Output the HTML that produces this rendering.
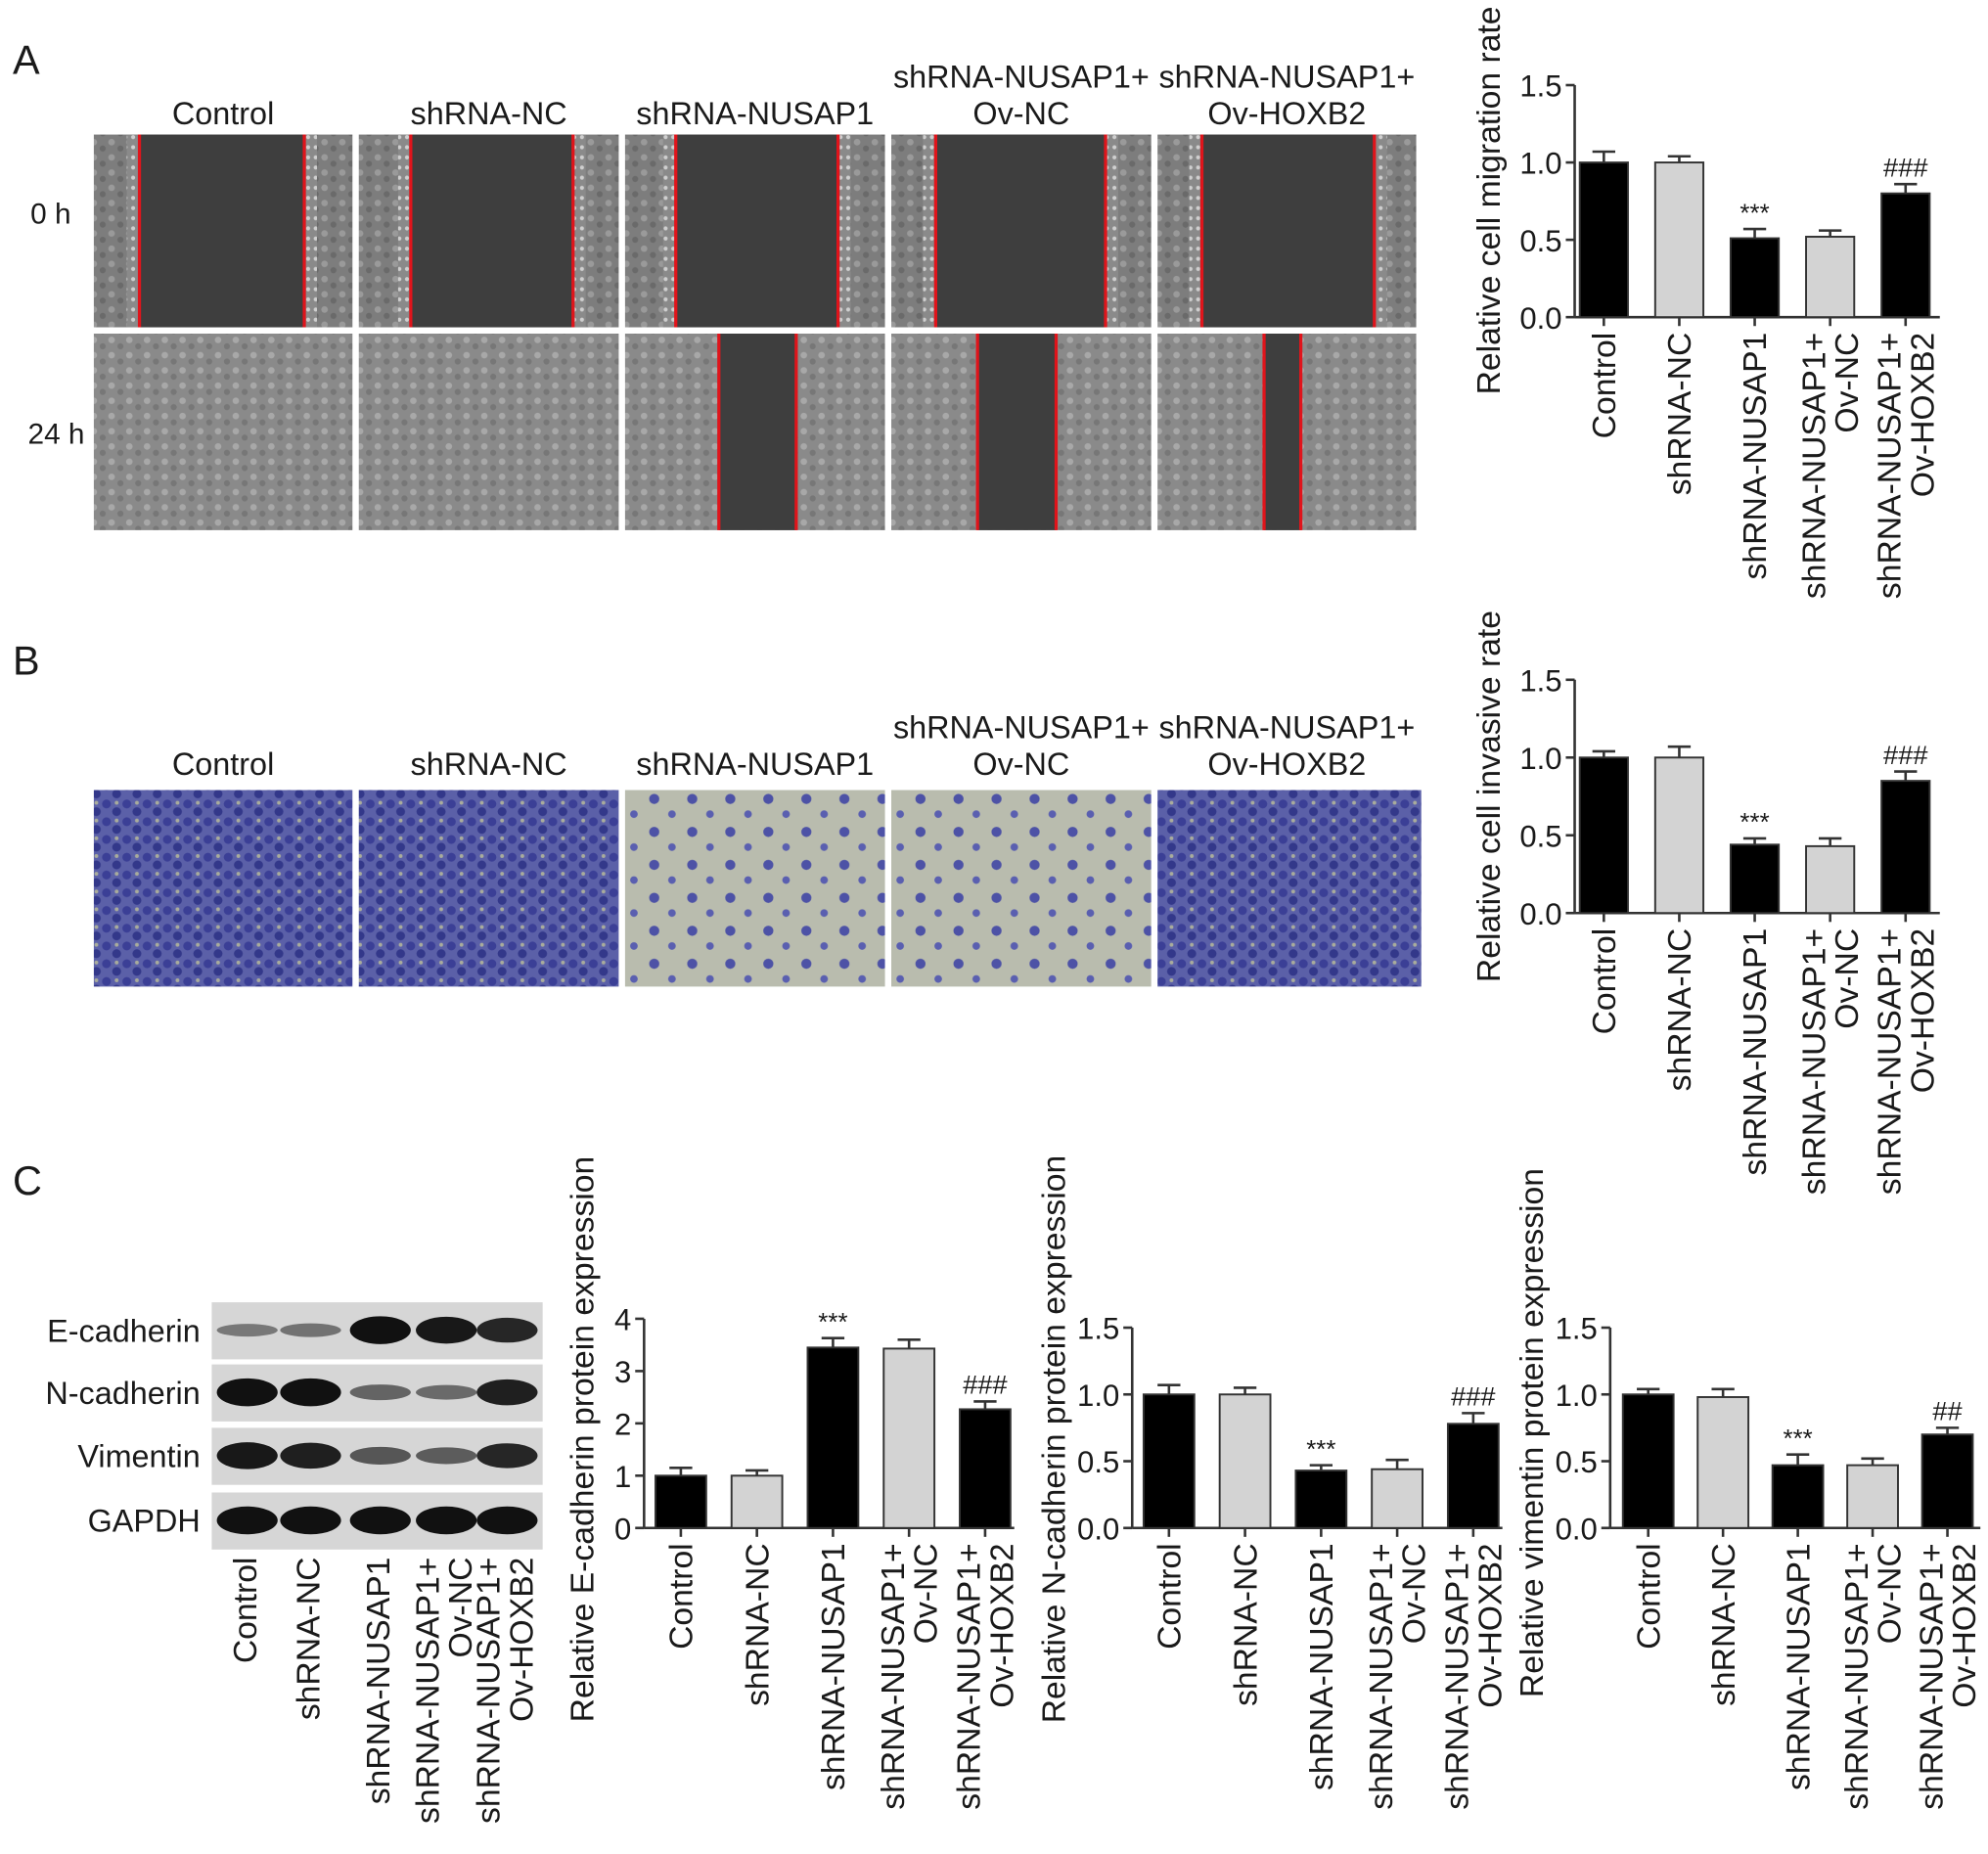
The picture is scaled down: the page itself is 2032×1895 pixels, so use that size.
<!DOCTYPE html>
<html><head><meta charset="utf-8">
<style>
html,body{margin:0;padding:0;background:#fff;}
svg{display:block;}
text{font-family:"Liberation Sans",Arial,sans-serif;fill:#1a1a1a;}
</style></head>
<body>
<svg id="fig" width="2032" height="1895" viewBox="0 0 1568 1462" xmlns="http://www.w3.org/2000/svg">
<defs>
<pattern id="cells" width="14" height="12" patternUnits="userSpaceOnUse">
<rect width="14" height="12" fill="#7d7d7d"/>
<circle cx="4" cy="4" r="2.6" fill="#9a9a9a"/><circle cx="11" cy="9" r="2.4" fill="#6a6a6a"/>
</pattern>
<pattern id="cells2" width="14" height="12" patternUnits="userSpaceOnUse">
<rect width="14" height="12" fill="#8a8a8a"/>
<circle cx="4" cy="4" r="2.6" fill="#a8a8a8"/><circle cx="11" cy="9" r="2.4" fill="#777"/>
</pattern>
<pattern id="edge" width="6" height="8" patternUnits="userSpaceOnUse">
<rect width="6" height="8" fill="#8a8a8a"/><circle cx="3" cy="4" r="1.6" fill="#cfcfcf"/>
</pattern>
<pattern id="blue" width="16" height="14" patternUnits="userSpaceOnUse">
<rect width="16" height="14" fill="#5b60a8"/>
<circle cx="4" cy="4" r="3.5" fill="#3b3f96"/><circle cx="12" cy="10" r="3.5" fill="#33388a"/><circle cx="12" cy="3" r="1.5" fill="#a9ac9c"/>
</pattern>
<pattern id="sparse" width="30" height="26" patternUnits="userSpaceOnUse">
<rect width="30" height="26" fill="#b9bcae"/>
<circle cx="6" cy="6" r="4" fill="#4d52a6"/><circle cx="20" cy="18" r="3" fill="#5a5fb0"/>
</pattern>
</defs>
<g id="root"></g>
</svg>
<script>
// ---- chart data ----
const groups = ["Control","shRNA-NC","shRNA-NUSAP1","shRNA-NUSAP1+|Ov-NC","shRNA-NUSAP1+|Ov-HOXB2"];
const migrationValues = [1.0,1.0,0.51,0.52,0.80];
const migrationErrors = [0.07,0.04,0.06,0.04,0.06];
const migrationMarks = ["","","***","","###"];
const invasionValues = [1.0,1.0,0.44,0.43,0.85];
const invasionErrors = [0.04,0.07,0.04,0.05,0.06];
const invasionMarks = ["","","***","","###"];
const ecadValues = [1.0,1.0,3.45,3.43,2.27];
const ecadErrors = [0.15,0.1,0.18,0.17,0.15];
const ecadMarks = ["","","***","","###"];
const ncadValues = [1.0,1.0,0.43,0.44,0.78];
const ncadErrors = [0.07,0.05,0.04,0.07,0.08];
const ncadMarks = ["","","***","","###"];
const vimValues = [1.0,0.98,0.47,0.47,0.70];
const vimErrors = [0.04,0.06,0.08,0.05,0.05];
const vimMarks = ["","","***","","##"];
const ticks15 = ["0.0","0.5","1.0","1.5"];
const ticks4 = ["0","1","2","3","4"];
const barFills = ["#000","#d3d3d3","#000","#d3d3d3","#000"];

const NS="http://www.w3.org/2000/svg";
const root=document.getElementById('root');
function el(tag,attrs,parent,txt){const e=document.createElementNS(NS,tag);for(const k in attrs)e.setAttribute(k,attrs[k]);if(txt!==undefined)e.textContent=txt;(parent||root).appendChild(e);return e;}

function chart(name,opt,values,errors,marks,ticks){
  const g=el('g',{});
  
  
  const ymax=parseFloat(ticks[ticks.length-1]);
  const y=v=>opt.y0-(v/ymax)*(opt.y0-opt.ytop);
  const x=i=>opt.x0+opt.first+i*opt.step;
  const ya=el('line',{x1:opt.x0,y1:opt.ytop,x2:opt.x0,y2:opt.y0,stroke:'#333','stroke-width':2},g);
  
  
  const xa=el('line',{x1:opt.x0,y1:opt.y0,x2:opt.xend,y2:opt.y0,stroke:'#333','stroke-width':2},g);
  
  
  ticks.forEach(t=>{const v=parseFloat(t);const yy=y(v);
    el('line',{x1:opt.x0-7,y1:yy,x2:opt.x0,y2:yy,stroke:'#333','stroke-width':2},g);
    const tl=el('text',{x:opt.x0-10,y:yy+9,'text-anchor':'end','font-size':24},g,t);
    
    
  });
  const tt=el('text',{x:0,y:0,'text-anchor':'middle','font-size':26,transform:`translate(${opt.tx},${opt.ty}) rotate(-90)`},g,opt.title);
  
  
  values.forEach((v,i)=>{
    const cx=x(i),w=opt.bw;
    const top=y(v),et=y(v+errors[i]);
    el('line',{x1:cx,y1:top,x2:cx,y2:et,stroke:'#333','stroke-width':2},g);
    el('line',{x1:cx-9,y1:et,x2:cx+9,y2:et,stroke:'#333','stroke-width':2},g);
    const b=el('rect',{x:cx-w/2,y:top,width:w,height:opt.y0-top,fill:barFills[i],stroke:'#333','stroke-width':1.5},g);
    
    
    el('line',{x1:cx,y1:opt.y0,x2:cx,y2:opt.y0+7,stroke:'#333','stroke-width':2},g);
    if(marks[i]){const m=el('text',{x:cx,y:et-6,'text-anchor':'middle','font-size':marks[i][0]=='*'?20:21},g,marks[i]);
      
      }
    xlabel(g,cx,opt.y0+12,groups[i]);
  });
}
function xlabel(g,cx,top,lab){
  const parts=lab.split('|');
  parts.forEach((p,j)=>{
    const off=parts.length==2?(j==0?-13:13):0;
    const t=el('text',{x:0,y:0,'text-anchor':'end','font-size':26,transform:`translate(${cx+off+9},${top}) rotate(-90)`},g,p);
    
    
  });
}

[["A",10,58],["B",10,532],["C",10,942]].forEach(([l,x,y])=>{const t=el('text',{x:x,y:y,'font-size':32},root,l);
  
  });

const colX=[74,283,493,703,913], colW=[204,205,205,205,204];
const titles=[["Control"],["shRNA-NC"],["shRNA-NUSAP1"],["shRNA-NUSAP1+","Ov-NC"],["shRNA-NUSAP1+","Ov-HOXB2"]];
function colTitles(yb){titles.forEach((t,i)=>{const cx=colX[i]+colW[i]/2;
  t.forEach((s,j)=>{const tx=el('text',{x:cx,y:yb-(t.length-1-j)*29,'text-anchor':'middle','font-size':25},root,s);
    
    });});}
colTitles(98); colTitles(611);
const r0=el('text',{x:24,y:176,'font-size':23},root,"0 h");
const r24=el('text',{x:22,y:350,'font-size':23},root,"24 h");
const gap0=[[110,240],[324,452],[533,661],[738,872],[948,1084]];
const gap24=[null,null,[567,628],[771,833],[997,1026]];
function wound(i,y,h,gap,pat){
  const g=el('g',{});
  
  
  el('rect',{x:colX[i],y:y,width:colW[i],height:h,fill:pat},g);
  if(gap){
    el('rect',{x:gap[0],y:y,width:gap[1]-gap[0],height:h,fill:'#3e3e3e'},g);
    if(y<200){el('rect',{x:gap[0]-10,y:y,width:10,height:h,fill:'url(#edge)'},g);el('rect',{x:gap[1],y:y,width:10,height:h,fill:'url(#edge)'},g);}
    el('line',{x1:gap[0],y1:y,x2:gap[0],y2:y+h,stroke:'#e0141b','stroke-width':2.5},g);
    el('line',{x1:gap[1],y1:y,x2:gap[1],y2:y+h,stroke:'#e0141b','stroke-width':2.5},g);
  }
}
for(let i=0;i<5;i++){wound(i,106,152,gap0[i],'url(#cells)');wound(i,263,155,gap24[i],'url(#cells2)');}
const bfill=['url(#blue)','url(#blue)','url(#sparse)','url(#sparse)','url(#blue)'];
for(let i=0;i<5;i++){const r=el('rect',{x:colX[i],y:623,width:colW[i]+(i==4?4:0),height:155,fill:bfill[i]});
  
  }

const wb=el('g',{});


const lanes=[195,245,300,352,400];
const rows=[["E-cadherin",1027,[0.25,0.3,1,0.95,0.85]],["N-cadherin",1076,[1,1,0.4,0.35,0.9]],["Vimentin",1126,[0.95,0.9,0.5,0.45,0.85]],["GAPDH",1177,[1,1,1,1,1]]];
rows.forEach(([n,y,ints])=>{
  el('rect',{x:167,y:y,width:261,height:45,fill:'#d6d6d6'},wb);
  const t=el('text',{x:158,y:y+31,'text-anchor':'end','font-size':25},wb,n);
  
  
  ints.forEach((v,i)=>el('ellipse',{cx:lanes[i],cy:y+22,rx:24,ry:3+8*v,fill:'#111','fill-opacity':0.3+0.7*v},wb));
});
lanes.forEach((cx,i)=>xlabel(wb,cx-2,1228,groups[i]));

chart('chart-migration',{x0:1242,ytop:67,y0:250,xend:1530,first:23,step:59.5,bw:38,title:"Relative cell migration rate",tx:1183,ty:158},migrationValues,migrationErrors,migrationMarks,ticks15);
chart('chart-invasion',{x0:1242,ytop:536,y0:720,xend:1530,first:23,step:59.5,bw:38,title:"Relative cell invasive rate",tx:1183,ty:628},invasionValues,invasionErrors,invasionMarks,ticks15);
chart('chart-ecadherin',{x0:508,ytop:1040,y0:1205,xend:800,first:29,step:60,bw:40,title:"Relative E-cadherin protein expression",tx:468,ty:1135},ecadValues,ecadErrors,ecadMarks,ticks4);
chart('chart-ncadherin',{x0:893,ytop:1047,y0:1205,xend:1185,first:29,step:60,bw:40,title:"Relative N-cadherin protein expression",tx:840,ty:1135},ncadValues,ncadErrors,ncadMarks,ticks15);
chart('chart-vimentin',{x0:1270,ytop:1047,y0:1205,xend:1562,first:30,step:59,bw:40,title:"Relative vimentin protein expression",tx:1217,ty:1130},vimValues,vimErrors,vimMarks,ticks15);
</script>
</body></html>
